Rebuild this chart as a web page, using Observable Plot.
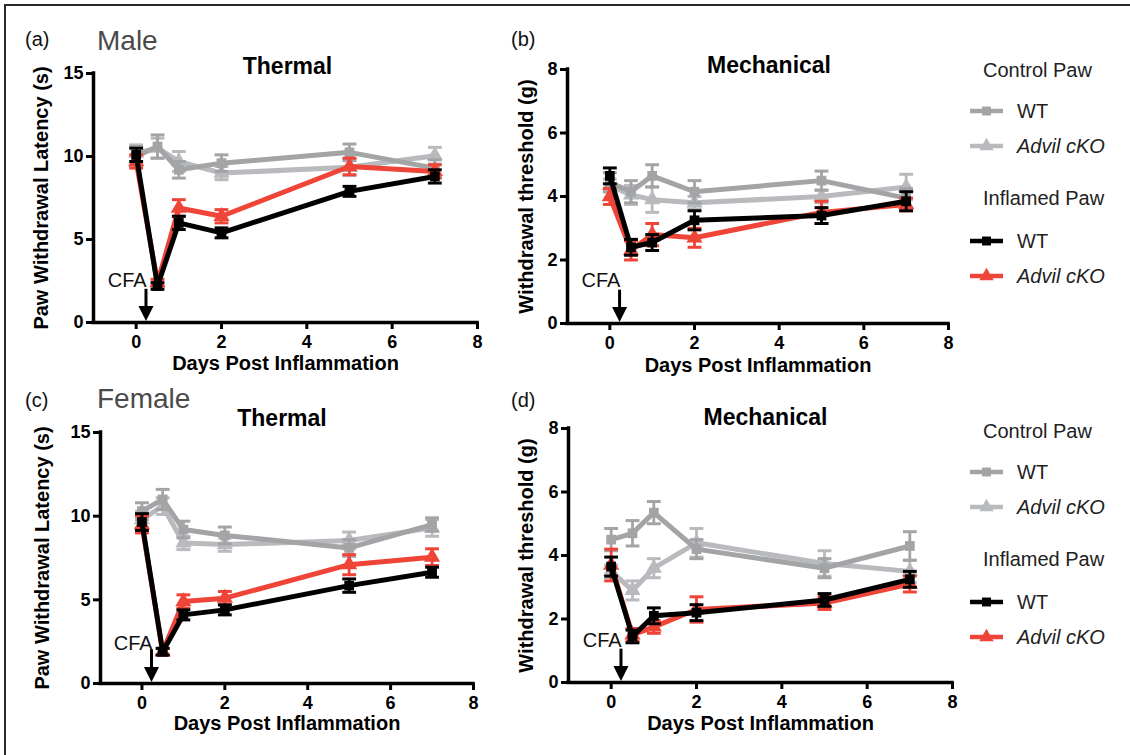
<!DOCTYPE html>
<html>
<head>
<meta charset="utf-8">
<script src="https://cdn.jsdelivr.net/npm/d3@7"></script>
<script src="https://cdn.jsdelivr.net/npm/@observablehq/plot@0.6"></script>
<style>
  body { margin: 0; background: #fff; font-family: "Liberation Sans", Arial, Helvetica, sans-serif; }
  #fig { position: relative; width: 1130px; height: 755px; overflow: hidden; background: #fff; }
  .abs { position: absolute; white-space: nowrap; line-height: 1; }
  .frame { position: absolute; left: 4px; top: 4px; width: 1200px; height: 800px; border-top: 2px solid #2a2a2a; border-left: 2px solid #2a2a2a; }
</style>
</head>
<body>
<div id="fig"><div class="frame"></div></div>
<script>
// ---------------- DATA ----------------
const days = [0, 0.5, 1, 2, 5, 7];
const xTicks = [0, 2, 4, 6, 8];
const thermalTicks = [0, 5, 10, 15];
const mechTicks = [0, 2, 4, 6, 8];

// (a) Male, Thermal — Paw Withdrawal Latency (s)
const maleThermalCtrlWT      = [10.0, 10.6, 9.2, 9.6, 10.25, 9.3];
const maleThermalCtrlWTsem   = [0.6, 0.7, 0.5, 0.5, 0.5, 0.5];
const maleThermalCtrlCKO     = [10.2, 10.5, 9.7, 9.0, 9.35, 10.05];
const maleThermalCtrlCKOsem  = [0.5, 0.6, 0.6, 0.4, 0.5, 0.5];
const maleThermalInfWT       = [10.1, 2.2, 6.0, 5.4, 7.9, 8.8];
const maleThermalInfWTsem    = [0.4, 0.2, 0.4, 0.3, 0.3, 0.4];
const maleThermalInfCKO      = [9.7, 2.4, 6.9, 6.4, 9.4, 9.1];
const maleThermalInfCKOsem   = [0.4, 0.2, 0.5, 0.4, 0.5, 0.4];

// (b) Male, Mechanical — Withdrawal threshold (g)
const maleMechCtrlWT      = [4.45, 4.15, 4.65, 4.15, 4.5, 3.95];
const maleMechCtrlWTsem   = [0.3, 0.35, 0.35, 0.35, 0.3, 0.3];
const maleMechCtrlCKO     = [4.35, 4.05, 3.9, 3.8, 4.0, 4.3];
const maleMechCtrlCKOsem  = [0.2, 0.3, 0.4, 0.2, 0.2, 0.4];
const maleMechInfWT       = [4.65, 2.4, 2.55, 3.25, 3.4, 3.85];
const maleMechInfWTsem    = [0.25, 0.25, 0.25, 0.3, 0.25, 0.3];
const maleMechInfCKO      = [4.0, 2.3, 2.8, 2.7, 3.5, 3.75];
const maleMechInfCKOsem   = [0.25, 0.3, 0.35, 0.3, 0.35, 0.2];

// (c) Female, Thermal
const femThermalCtrlWT      = [10.3, 11.0, 9.2, 8.85, 8.1, 9.5];
const femThermalCtrlWTsem   = [0.5, 0.6, 0.5, 0.5, 0.5, 0.4];
const femThermalCtrlCKO     = [9.8, 10.6, 8.4, 8.3, 8.55, 9.3];
const femThermalCtrlCKOsem  = [0.5, 0.5, 0.4, 0.4, 0.5, 0.5];
const femThermalInfWT       = [9.65, 1.9, 4.1, 4.4, 5.85, 6.65];
const femThermalInfWTsem    = [0.5, 0.2, 0.3, 0.3, 0.4, 0.3];
const femThermalInfCKO      = [9.5, 1.9, 4.9, 5.1, 7.1, 7.55];
const femThermalInfCKOsem   = [0.5, 0.2, 0.4, 0.4, 0.6, 0.5];

// (d) Female, Mechanical
const femMechCtrlWT      = [4.5, 4.7, 5.35, 4.2, 3.6, 4.3];
const femMechCtrlWTsem   = [0.35, 0.4, 0.35, 0.3, 0.3, 0.45];
const femMechCtrlCKO     = [3.5, 2.9, 3.6, 4.4, 3.75, 3.5];
const femMechCtrlCKOsem  = [0.2, 0.3, 0.3, 0.45, 0.4, 0.35];
const femMechInfWT       = [3.65, 1.45, 2.1, 2.2, 2.6, 3.25];
const femMechInfWTsem    = [0.3, 0.2, 0.25, 0.25, 0.2, 0.25];
const femMechInfCKO      = [3.7, 1.5, 1.75, 2.3, 2.5, 3.1];
const femMechInfCKOsem   = [0.5, 0.2, 0.2, 0.4, 0.2, 0.25];

const cfaLabel = ["CFA"];
const cfaDay = [0.23];

// ---------------- STYLE ----------------
const FONT = '"Liberation Sans", Arial, Helvetica, sans-serif';
const C_CTRL_WT = "#a3a4a6";
const C_CTRL_CKO = "#b8babe";
const C_INF_WT = "#000000";
const C_INF_CKO = "#ef4438";

const capSymbol = { draw(ctx, size) { const w = Math.sqrt(size); ctx.moveTo(-w, 0); ctx.lineTo(w, 0); } };
const downTri = { draw(ctx, size) { const s = Math.sqrt(size); ctx.moveTo(0, 0); ctx.lineTo(-s / 2, -s); ctx.lineTo(s / 2, -s); ctx.closePath(); } };

const fig = document.getElementById("fig");

function addText(txt, x, y, opts = {}) {
  const d = document.createElement("div");
  d.className = "abs";
  d.textContent = txt;
  d.style.left = x + "px";
  d.style.top = y + "px";
  d.style.fontSize = (opts.size || 19) + "px";
  d.style.color = opts.color || "#111";
  if (opts.bold) d.style.fontWeight = "bold";
  if (opts.italic) d.style.fontStyle = "italic";
  d.style.transform = "translateY(-50%)";
  fig.appendChild(d);
}

function makePanel(cfg) {
  const mL = 90, mT = 40, mR = 15, mB = 60;
  const marks = [];
  for (const g of cfg.groups) {
    const rows = days.map((d, i) => ({ day: d, v: g.values[i], e: g.sem[i] }));
    marks.push(
      Plot.ruleX(rows, { x: "day", y1: d => d.v - d.e, y2: d => d.v + d.e, stroke: g.color, strokeWidth: 2.8 }),
      Plot.dot(rows, { x: "day", y: d => d.v + d.e, symbol: capSymbol, r: 3.9, stroke: g.color, fill: "none", strokeWidth: 3 }),
      Plot.dot(rows, { x: "day", y: d => d.v - d.e, symbol: capSymbol, r: 3.9, stroke: g.color, fill: "none", strokeWidth: 3 }),
      Plot.line(rows, { x: "day", y: "v", stroke: g.color, strokeWidth: 5, strokeLinejoin: "round" }),
      Plot.dot(rows, { x: "day", y: "v", symbol: g.symbol, r: g.symbol === "square" ? 5.5 : 6, fill: g.color, stroke: "none" })
    );
  }
  marks.push(
    Plot.ruleY([0], { stroke: "#000", strokeWidth: 3.5, strokeLinecap: "square" }),
    Plot.ruleX([-1], { stroke: "#000", strokeWidth: 3.5, strokeLinecap: "square" }),
    Plot.axisX({ ticks: xTicks, tickSize: 7, tickPadding: 6, strokeWidth: 3, fontSize: 18, fontWeight: "bold", label: null, fill: "#000" }),
    Plot.axisY({ ticks: cfg.yticks, tickSize: 7, tickPadding: 3, strokeWidth: 3, fontSize: 18, fontWeight: "bold", label: null, fill: "#000" }),
    Plot.text([cfg.ylabel], { frameAnchor: "left", rotate: -90, dx: -cfg.ylabelDx, textAnchor: "middle", lineAnchor: "middle", fontSize: 20, fontWeight: "bold", fill: "#000" }),
    Plot.text(["Days Post Inflammation"], { frameAnchor: "bottom", dy: cfg.xlabelDy, textAnchor: "middle", lineAnchor: "middle", fontSize: 20, fontWeight: "bold", fill: "#000" }),
    Plot.text([cfg.title], { frameAnchor: "top", dx: cfg.titleDx, dy: cfg.titleDy, textAnchor: "middle", lineAnchor: "middle", fontSize: 23, fontWeight: "bold", fill: "#000" }),
    // CFA annotation
    Plot.ruleX(cfaDay, { y1: cfg.cfaTop, y2: 0.3 * cfg.cfaTop, stroke: "#000", strokeWidth: 3 }),
    Plot.dot(cfaDay, { x: d => d, y: 0, symbol: downTri, r: 8.5, fill: "#000", stroke: "none", dy: -1.5 }),
    Plot.text(cfaLabel, { x: -0.21, y: cfg.cfaY, fontSize: 20, fill: "#111" })
  );
  const chart = Plot.plot({
    width: cfg.fw + mL + mR,
    height: cfg.fh + mT + mB,
    marginLeft: mL, marginTop: mT, marginRight: mR, marginBottom: mB,
    x: { domain: [-1, 8] },
    y: { domain: [0, cfg.ymax] },
    style: { fontFamily: FONT, overflow: "visible", background: "transparent" },
    marks
  });
  chart.style.position = "absolute";
  chart.style.left = (cfg.left - mL) + "px";
  chart.style.top = (cfg.top - mT) + "px";
  fig.appendChild(chart);
}

function groups(cw, cws, ck, cks, iw, iws, ik, iks) {
  return [
    { values: ck, sem: cks, color: C_CTRL_CKO, symbol: "triangle" },
    { values: cw, sem: cws, color: C_CTRL_WT, symbol: "square" },
    { values: ik, sem: iks, color: C_INF_CKO, symbol: "triangle" },
    { values: iw, sem: iws, color: C_INF_WT, symbol: "square" }
  ];
}

makePanel({ left: 93, top: 73, fw: 384, fh: 249, ymax: 15, yticks: thermalTicks,
  ylabel: "Paw Withdrawal Latency (s)", ylabelDx: 52, xlabelDy: 41, title: "Thermal", titleDx: 2, titleDy: -7,
  cfaY: 2.5, cfaTop: 2.0,
  groups: groups(maleThermalCtrlWT, maleThermalCtrlWTsem, maleThermalCtrlCKO, maleThermalCtrlCKOsem,
                 maleThermalInfWT, maleThermalInfWTsem, maleThermalInfCKO, maleThermalInfCKOsem) });

makePanel({ left: 567, top: 69, fw: 381, fh: 254, ymax: 8, yticks: mechTicks,
  ylabel: "Withdrawal threshold (g)", ylabelDx: 41, xlabelDy: 42, title: "Mechanical", titleDx: 11, titleDy: -4,
  cfaY: 1.36, cfaTop: 1.05,
  groups: groups(maleMechCtrlWT, maleMechCtrlWTsem, maleMechCtrlCKO, maleMechCtrlCKOsem,
                 maleMechInfWT, maleMechInfWTsem, maleMechInfCKO, maleMechInfCKOsem) });

makePanel({ left: 100, top: 432, fw: 373, fh: 251, ymax: 15, yticks: thermalTicks,
  ylabel: "Paw Withdrawal Latency (s)", ylabelDx: 58, xlabelDy: 40, title: "Thermal", titleDx: -5, titleDy: -14,
  cfaY: 2.4, cfaTop: 2.0,
  groups: groups(femThermalCtrlWT, femThermalCtrlWTsem, femThermalCtrlCKO, femThermalCtrlCKOsem,
                 femThermalInfWT, femThermalInfWTsem, femThermalInfCKO, femThermalInfCKOsem) });

makePanel({ left: 568, top: 428, fw: 384, fh: 254, ymax: 8, yticks: mechTicks,
  ylabel: "Withdrawal threshold (g)", ylabelDx: 42, xlabelDy: 41, title: "Mechanical", titleDx: 5, titleDy: -11,
  cfaY: 1.32, cfaTop: 1.05,
  groups: groups(femMechCtrlWT, femMechCtrlWTsem, femMechCtrlCKO, femMechCtrlCKOsem,
                 femMechInfWT, femMechInfWTsem, femMechInfCKO, femMechInfCKOsem) });

// Panel letters and sex labels
addText("(a)", 25, 39, { size: 20 });
addText("Male", 97, 41, { size: 28, color: "#4a4a4a" });
addText("(b)", 511, 39, { size: 20 });
addText("(c)", 25, 400, { size: 20 });
addText("Female", 97, 399, { size: 28, color: "#4a4a4a" });
addText("(d)", 511, 400, { size: 20 });

// Legends
function legendSwatch(x, y, color, symbol) {
  const ns = "http://www.w3.org/2000/svg";
  const svg = document.createElementNS(ns, "svg");
  svg.setAttribute("width", 40); svg.setAttribute("height", 20);
  svg.style.position = "absolute"; svg.style.left = (x - 2) + "px"; svg.style.top = (y - 10) + "px";
  const line = document.createElementNS(ns, "line");
  line.setAttribute("x1", 2); line.setAttribute("x2", 35); line.setAttribute("y1", 10); line.setAttribute("y2", 10);
  line.setAttribute("stroke", color); line.setAttribute("stroke-width", 4.5);
  svg.appendChild(line);
  const m = document.createElementNS(ns, "path");
  m.setAttribute("d", d3.symbol(symbol === "square" ? d3.symbolSquare : d3.symbolTriangle, symbol === "square" ? 80 : 90)());
  m.setAttribute("transform", "translate(18.5,10)");
  m.setAttribute("fill", color);
  svg.appendChild(m);
  fig.appendChild(svg);
}
function legend(y0) {
  addText("Control Paw", 983, y0 + 70, { size: 20, color: "#222" });
  legendSwatch(970, y0 + 111, C_CTRL_WT, "square");
  addText("WT", 1017, y0 + 111, { size: 20, color: "#222" });
  legendSwatch(970, y0 + 146, C_CTRL_CKO, "triangle");
  addText("Advil cKO", 1017, y0 + 146, { size: 20, color: "#222", italic: true });
  addText("Inflamed Paw", 983, y0 + 198, { size: 20, color: "#222" });
  legendSwatch(970, y0 + 241, C_INF_WT, "square");
  addText("WT", 1017, y0 + 241, { size: 20, color: "#222" });
  legendSwatch(970, y0 + 276, C_INF_CKO, "triangle");
  addText("Advil cKO", 1017, y0 + 276, { size: 20, color: "#222", italic: true });
}
legend(0);
legend(361);
</script>
</body>
</html>
